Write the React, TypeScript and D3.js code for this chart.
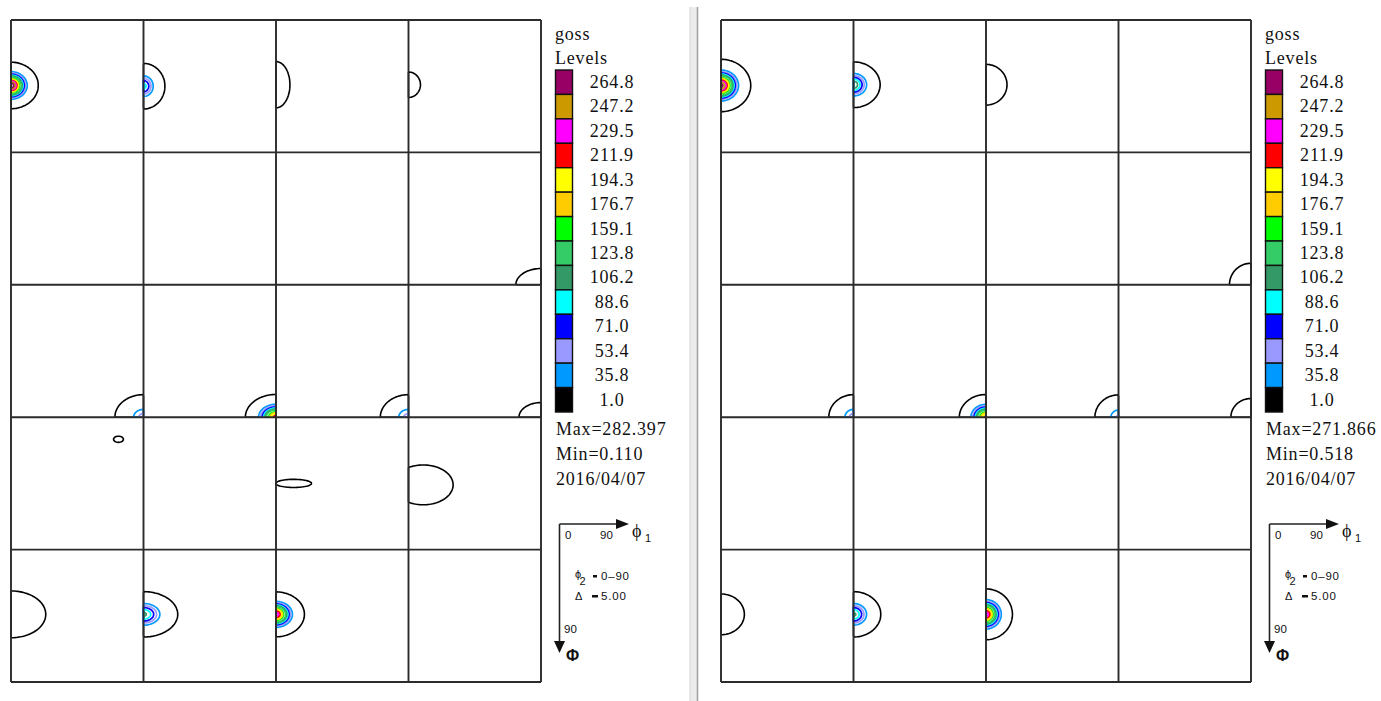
import React from 'react';
import * as d3 from 'd3';

// contour levels of the ODF sections, low to high, and their colours
const levels = [1.0, 35.8, 53.4, 71.0, 88.6, 106.2, 123.8, 159.1, 176.7, 194.3, 211.9, 229.5, 247.2, 264.8];
const levelColors = [
  '#000000', '#0099ff', '#9999ff', '#0000ff', '#00ffff', '#339966', '#33cc66',
  '#00ff00', '#ffcc00', '#ffff00', '#ff0000', '#ff00ff', '#cc9900', '#990066',
];
const levelLabels = ['1.0', '35.8', '53.4', '71.0', '88.6', '106.2', '123.8', '159.1', '176.7', '194.3', '211.9', '229.5', '247.2', '264.8'];

// peaks read from each section: [section (phi2 / 5), phi1, Phi, height, spread phi1, spread Phi]
const leftPeaks = [
  [0, 0, 44.5, 282, 5.4, 4.6],
  [1, 0, 45, 95, 4.7, 5],
  [2, 0, 44, 10, 4.2, 7],
  [3, 0, 44, 2, 6, 6.4],
  [7, 90, 90, 3, 10.5, 6.8],
  [8, 90, 90, 60, 6.6, 5.2],
  [9, 90, 90, 220, 6.2, 4.6],
  [10, 90, 90, 60, 6.5, 5.2],
  [11, 90, 90, 3, 9.2, 6.1],
  [12, 73, 15, 1.15, 4, 2.5],
  [14, 12, 45, 1.3, 12.4, 2.8],
  [15, 10, 46, 2, 15, 10],
  [16, 0, 44, 8, 11, 7.4],
  [17, 0, 44, 110, 7.4, 4.9],
  [18, 0, 44, 240, 5.7, 4.5],
];
const rightPeaks = [
  [0, 0, 44.5, 271.9, 5.9, 5.2],
  [1, 0, 44, 120, 5.7, 4.9],
  [2, 0, 44, 6, 7.1, 6.9],
  [7, 90, 90, 3, 9, 9],
  [8, 90, 90, 60, 5.7, 5.2],
  [9, 90, 90, 215, 5.4, 4.6],
  [10, 90, 90, 55, 5.5, 5.2],
  [11, 90, 90, 3, 8.4, 7.8],
  [16, 0, 44, 6, 7.9, 6.9],
  [17, 0, 44, 110, 5.9, 4.9],
  [18, 0, 44, 240, 5.3, 5.1],
];

const panelNames = ['goss', 'goss'];
const maxLabels = ['282.397', '271.866'];
const minLabels = ['0.110', '0.518'];
const dates = ['2016/04/07', '2016/04/07'];

const N = 90; // 1 degree samples per section
const cols = 4;
const rows = 5;
const cellW = 132.5;
const cellH = 132.4;
const gridTop = 20;
const panelX = [11, 721];

const serif = '"Liberation Serif", "Times New Roman", serif';
const sans = '"Liberation Sans", Arial, sans-serif';

function sectionField(peaks) {
  const values = new Array(N * N);
  for (let j = 0; j < N; j++) {
    const Phi = ((j + 0.5) * 90) / N;
    for (let i = 0; i < N; i++) {
      const phi1 = ((i + 0.5) * 90) / N;
      let v = 0.2;
      peaks.forEach(([, p1, p2, h, sx, sy]) => {
        v += h * Math.exp(-((phi1 - p1) ** 2) / (2 * sx * sx) - ((Phi - p2) ** 2) / (2 * sy * sy));
      });
      values[j * N + i] = v;
    }
  }
  return values;
}

const Panel = ({ peaks, x0 }) => {
  const sx = d3.scaleLinear().domain([0, N]).range([0, cellW]);
  const sy = d3.scaleLinear().domain([0, N]).range([0, cellH]);
  const contourGen = d3.contours().size([N, N]).thresholds(levels);

  const sections = d3.groups(peaks, (d) => d[0]);
  const paths = [];
  sections.forEach(([section, ps]) => {
    const cx = x0 + (section % cols) * cellW;
    const cy = gridTop + Math.floor(section / cols) * cellH;
    const path = d3.geoPath(
      d3.geoTransform({
        point(px, py) {
          this.stream.point(cx + sx(px), cy + sy(py));
        },
      })
    );
    contourGen(sectionField(ps)).forEach((c, k) => {
      const d = path(c);
      if (d) paths.push({ key: `${section}-${k}`, d, color: levelColors[k], k });
    });
  });

  return (
    <g>
      {paths.map((p) => (
        <path key={p.key} d={p.d} fill="none" stroke={p.color} strokeWidth={p.k === 0 ? 1.6 : 1.7} strokeLinejoin="round" />
      ))}
      {d3.range(cols + 1).map((k) => (
        <line key={`v${k}`} x1={x0 + k * cellW} x2={x0 + k * cellW} y1={gridTop} y2={gridTop + rows * cellH}
          stroke="#2b2b2b" strokeWidth={1.9} />
      ))}
      {d3.range(rows + 1).map((k) => (
        <line key={`h${k}`} x1={x0} x2={x0 + cols * cellW} y1={gridTop + k * cellH} y2={gridTop + k * cellH}
          stroke="#2b2b2b" strokeWidth={1.9} />
      ))}
    </g>
  );
};

const Legend = ({ x0, name, max, min, date }) => {
  const lx = x0 + 544;
  const boxTop = 70;
  const boxH = 24.43;
  const order = d3.range(levels.length).reverse();
  const textStyle = { fontFamily: serif, fontSize: 18, letterSpacing: 0.8 };
  return (
    <g fill="#111">
      <text x={lx} y={40} style={textStyle}>{name}</text>
      <text x={lx} y={63.5} style={textStyle}>Levels</text>
      {order.map((k, i) => (
        <g key={k}>
          <rect x={lx + 0.5} y={boxTop + i * boxH} width={17} height={boxH} fill={levelColors[k]} stroke="#111" strokeWidth={1.4} />
          <text x={lx + 57} y={boxTop + i * boxH + 18} textAnchor="middle" style={textStyle}>{levelLabels[k]}</text>
        </g>
      ))}
      <text x={lx + 1} y={435} style={textStyle}>Max={max}</text>
      <text x={lx + 1} y={460} style={textStyle}>Min={min}</text>
      <text x={lx + 1} y={485} style={textStyle}>{date}</text>

      {/* phi1 / Phi axis key */}
      <g stroke="#222" strokeWidth={1.6}>
        <line x1={lx + 4.5} x2={lx + 64} y1={524} y2={524} />
        <line x1={lx + 4.5} x2={lx + 4.5} y1={524} y2={643} />
      </g>
      <polygon points={`${lx + 61},519 ${lx + 74},524 ${lx + 61},529`} fill="#111" />
      <polygon points={`${lx - 1},641 ${lx + 4.5},653 ${lx + 10},641`} fill="#111" />
      <g style={{ fontFamily: sans, fontSize: 11.5 }}>
        <text x={lx + 10} y={538.5}>0</text>
        <text x={lx + 45} y={538.5}>90</text>
        <text x={lx + 9} y={633}>90</text>
        <text x={lx + 20} y={578} style={{ fontSize: 11 }}>ϕ</text>
        <text x={lx + 24.5} y={584.5} style={{ fontSize: 11 }}>2</text>
        <rect x={lx + 38} y={575} width={4} height={2.5} />
        <text x={lx + 46} y={580} style={{ letterSpacing: 0.8 }}>0–90</text>
        <text x={lx + 20} y={600} style={{ fontSize: 11 }}>Δ</text>
        <rect x={lx + 37} y={595} width={6} height={2.5} />
        <text x={lx + 46} y={600} style={{ letterSpacing: 0.8 }}>5.00</text>
      </g>
      <text x={lx + 77} y={537} style={{ fontFamily: serif, fontSize: 18 }}>ϕ</text>
      <text x={lx + 90} y={542} style={{ fontFamily: sans, fontSize: 11 }}>1</text>
      <text x={lx + 11} y={661} style={{ fontFamily: sans, fontSize: 16, fontWeight: 'bold' }}>Φ</text>
    </g>
  );
};

const App = () => {
  const peaksByPanel = [leftPeaks, rightPeaks];
  return (
    <svg width={1381} height={701} style={{ position: 'absolute', left: 0, top: 0, background: '#fff' }}>
      <rect x={0} y={0} width={1381} height={701} fill="#fff" />
      {panelX.map((x0, p) => (
        <g key={p}>
          <Panel peaks={peaksByPanel[p]} x0={x0} />
          <Legend x0={x0} name={panelNames[p]} max={maxLabels[p]} min={minLabels[p]} date={dates[p]} />
        </g>
      ))}
      {/* splitter between the two windows */}
      <rect x={689.5} y={7} width={8} height={694} fill="#ececec" />
      <line x1={690} x2={690} y1={7} y2={701} stroke="#dadada" strokeWidth={1} />
      <line x1={697.5} x2={697.5} y1={7} y2={701} stroke="#a3a3a3" strokeWidth={1.6} />
    </svg>
  );
};

export default App;
